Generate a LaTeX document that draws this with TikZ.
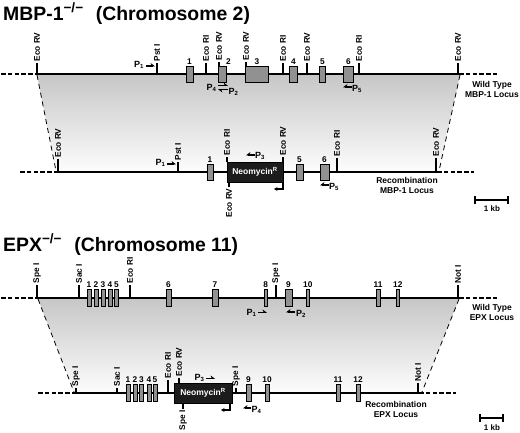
\documentclass[tikz,border=0pt]{standalone}
\usepackage{fontspec}
\setmainfont{Liberation Sans}
\usetikzlibrary{arrows.meta}
\definecolor{exgray}{RGB}{145,145,145}
\definecolor{neoblack}{RGB}{28,28,28}
\tikzset{
 mainln/.style={line width=2.6pt},
 extln/.style={line width=2.6pt, dash pattern=on 4.5pt off 2.3pt},
 trap/.style={line width=0.8pt, dash pattern=on 5pt off 4pt},
 tk/.style={line width=1.4pt},
 slab/.style={rotate=90, inner sep=0.8pt, font=\fontsize{8.3}{9}\selectfont\bfseries},
 exn/.style={draw=black, line width=0.7pt, fill=exgray},
 exlab/.style={anchor=south, inner sep=0.4pt, font=\fontsize{8.3}{9}\selectfont\bfseries},
 neo/.style={draw=black, line width=0.7pt, fill=neoblack, text=white, font=\fontsize{8.5}{10}\selectfont\bfseries, inner sep=0pt},
 plab/.style={inner sep=0.5pt, font=\fontsize{9}{10}\selectfont\bfseries},
 prim/.style={line width=1.1pt, -{Stealth[harpoon,length=4pt,width=6pt]}},
 primS/.style={line width=1.1pt, -{Stealth[harpoon,swap,length=4pt,width=6pt]}},
 bent/.style={line width=1.1pt, -{Stealth[length=3.5pt,width=4pt]}},
 ttl/.style={anchor=base west, inner sep=0pt, font=\fontsize{19.4}{24}\selectfont\bfseries},
 locus/.style={align=center, inner sep=0pt, font=\fontsize{8.5}{10}\selectfont\bfseries},
 kb/.style={inner sep=0pt, font=\fontsize{8}{9}\selectfont\bfseries},
}
\newcommand\siteup[4]{\draw[tk] (#1,#2) -- (#1,#3) node[slab,anchor=west]{#4};}
\newcommand\sitedn[4]{\draw[tk] (#1,#2) -- (#1,#3) node[slab,anchor=east]{#4};}
\newcommand\ex[4]{\draw[exn] (#1,#3) rectangle (#2,#4);}
\newcommand\exl[3]{\node[exlab] at (#1,#2) {#3};}
\begin{document}
\begin{tikzpicture}[x=1pt,y=-1pt]
\useasboundingbox (0,0) rectangle (520,432);
% ================= MBP-1 =================
\node[ttl] (t1) at (3,20) {MBP-1\textsuperscript{\char"2212/\char"2212}\hspace{0.35em} (Chromosome 2)};
\coordinate (mA) at (37,75); \coordinate (mB) at (460,75);
\coordinate (mC) at (439,171); \coordinate (mD) at (56,171);
\shade[top color=black!22, bottom color=black!1] (mA) -- (mB) -- (mC) -- (mD) -- cycle;
\draw[trap] (mA) -- (mD); \draw[trap] (mB) -- (mC);
% wild type line
\coordinate (mw0) at (1,74); \coordinate (mw1) at (36,74);
\coordinate (mw2) at (459,74); \coordinate (mw3) at (497,74);
\draw[extln] (mw0) -- (mw1); \draw[mainln] (mw1) -- (mw2); \draw[extln] (mw2) -- (mw3);
\siteup{37}{74}{63}{Eco RV}
\siteup{157}{74}{63}{Pst I}
\siteup{206}{74}{63}{Eco RI}
\siteup{219}{66}{62}{Eco RV}
\siteup{246}{66}{62}{Eco RV}
\siteup{283}{74}{63}{Eco RI}
\siteup{307}{74}{63}{Eco RV}
\siteup{359}{74}{63}{Eco RI}
\siteup{458}{74}{63}{Eco RV}
\ex{186}{193}{66}{82} \exl{189.5}{65}{1}
\ex{218}{226}{66}{82} \exl{228.5}{65}{2}
\ex{245}{268}{66}{82} \exl{257}{65}{3}
\ex{289}{297}{66}{82} \exl{293.5}{65}{4}
\ex{319}{325}{66}{82} \exl{322.5}{65}{5}
\ex{343}{353}{66}{82} \exl{348.5}{65}{6}
\node[plab] (p1w) at (139,65) {P\textsubscript{1}};
\draw[prim] (146,66) -- (155,66);
\node[plab] (p4w) at (211.5,88) {P\textsubscript{4}};
\draw[prim] (218,85.5) -- (228,85.5);
\draw[prim] (228,89.5) -- (218,89.5);
\node[plab] (p2w) at (233.5,91.5) {P\textsubscript{2}};
\draw[primS] (352,87) -- (343,87);
\node[plab] (p5w) at (357,89) {P\textsubscript{5}};
\node[locus] (lw1) at (492,89) {Wild Type\\MBP-1 Locus};
% recombination line
\coordinate (mr0) at (20,172); \coordinate (mr1) at (57,172);
\coordinate (mr2) at (437,172); \coordinate (mr3) at (474,172);
\draw[extln] (mr0) -- (mr1); \draw[mainln] (mr1) -- (mr2); \draw[extln] (mr2) -- (mr3);
\siteup{58}{172}{159}{Eco RV}
\siteup{178}{172}{162}{Pst I}
\siteup{337}{172}{158}{Eco RI}
\siteup{436}{172}{158}{Eco RV}
\ex{207}{213}{164}{180} \exl{210}{163}{1}
\ex{296}{303}{164}{180} \exl{299.5}{163}{5}
\ex{320}{329}{164}{180} \exl{324.5}{163}{6}
\node[neo, minimum width=56pt, minimum height=20pt] (neoM) at (255,172) {Neomycin\textsuperscript{R}};
\siteup{227}{162}{157}{Eco RI}
\siteup{283}{162}{157}{Eco RV}
\sitedn{229}{182}{187}{Eco RV}
\coordinate (bm1) at (283,182); \coordinate (bm2) at (283,189); \coordinate (bm3) at (274,189);
\draw[bent] (bm1) -- (bm2) -- (bm3);
\draw[primS] (255,155) -- (246,155);
\node[plab] (p3m) at (260,156) {P\textsubscript{3}};
\node[plab] (p1r) at (160.5,163) {P\textsubscript{1}};
\draw[prim] (167,164) -- (176,164);
\draw[primS] (329,185) -- (320,185);
\node[plab] (p5r) at (334,187) {P\textsubscript{5}};
\node[locus] (lr1) at (407,185.5) {Recombination\\MBP-1 Locus};
% scale bar
\coordinate (sb1) at (475,200); \coordinate (sb2) at (508,200);
\draw[line width=1.3pt] (sb1) -- (sb2);
\draw[line width=1.3pt] (475,196) -- (475,204) (508,196) -- (508,204);
\node[kb] (kb1) at (492,209) {1 kb};
% ================= EPX =================
\node[ttl] (t2) at (3,251) {EPX\textsuperscript{\char"2212/\char"2212}\hspace{0.35em} (Chromosome 11)};
\coordinate (eA) at (38,299); \coordinate (eB) at (459,299);
\coordinate (eC) at (422,392); \coordinate (eD) at (74,392);
\shade[top color=black!22, bottom color=black!1] (eA) -- (eB) -- (eC) -- (eD) -- cycle;
\draw[trap] (eA) -- (eD); \draw[trap] (eB) -- (eC);
\coordinate (ew0) at (1,298); \coordinate (ew1) at (36,298);
\coordinate (ew2) at (459,298); \coordinate (ew3) at (497,298);
\draw[extln] (ew0) -- (ew1); \draw[mainln] (ew1) -- (ew2); \draw[extln] (ew2) -- (ew3);
\siteup{37}{298}{285}{Spe I}
\siteup{79}{298}{285}{Sac I}
\siteup{130}{298}{285}{Eco RI}
\siteup{276}{298}{285}{Spe I}
\siteup{458}{298}{285}{Not I}
\ex{87}{91}{289.5}{306.5} \exl{89}{288.5}{1}
\ex{94}{98}{289.5}{306.5} \exl{96}{288.5}{2}
\ex{101}{105}{289.5}{306.5} \exl{103}{288.5}{3}
\ex{108}{112}{289.5}{306.5} \exl{110}{288.5}{4}
\ex{114}{118}{289.5}{306.5} \exl{116.5}{288.5}{5}
\ex{166}{171}{289.5}{306.5} \exl{168.5}{288.5}{6}
\ex{212}{218}{289.5}{306.5} \exl{215}{288.5}{7}
\ex{264}{267.5}{289.5}{306.5} \exl{265.8}{288.5}{8}
\ex{285}{292}{289.5}{306.5} \exl{288.5}{288.5}{9}
\ex{306}{309.5}{289.5}{306.5} \exl{307.8}{288.5}{10}
\ex{376}{380}{289.5}{306.5} \exl{378}{288.5}{11}
\ex{396}{399.5}{289.5}{306.5} \exl{397.8}{288.5}{12}
\node[plab] (q1w) at (251.5,312.5) {P\textsubscript{1}};
\draw[prim] (258,312.5) -- (267,312.5);
\draw[primS] (295,312) -- (286,312);
\node[plab] (q2w) at (301,313.5) {P\textsubscript{2}};
\node[locus] (lw2) at (492,312.5) {Wild Type\\EPX Locus};
% recombination line
\coordinate (er0) at (38,393); \coordinate (er1) at (75,393);
\coordinate (er2) at (419,393); \coordinate (er3) at (456,393);
\draw[extln] (er0) -- (er1); \draw[mainln] (er1) -- (er2); \draw[extln] (er2) -- (er3);
\siteup{76}{393}{388}{Spe I}
\siteup{117}{393}{388}{Sac I}
\siteup{168}{393}{380}{Eco RI}
\siteup{236}{393}{388}{Spe I}
\siteup{418}{393}{383}{Not I}
\ex{126}{130}{384.5}{401.5} \exl{128}{383.5}{1}
\ex{133}{137}{384.5}{401.5} \exl{135}{383.5}{2}
\ex{139.5}{143.5}{384.5}{401.5} \exl{141.5}{383.5}{3}
\ex{147}{151}{384.5}{401.5} \exl{149}{383.5}{4}
\ex{153}{157}{384.5}{401.5} \exl{155}{383.5}{5}
\ex{246}{251}{384.5}{401.5} \exl{248.5}{383.5}{9}
\ex{265}{269}{384.5}{401.5} \exl{267}{383.5}{10}
\ex{336}{340}{384.5}{401.5} \exl{338}{383.5}{11}
\ex{356}{360}{384.5}{401.5} \exl{358}{383.5}{12}
\node[neo, minimum width=58pt, minimum height=20pt] (neoE) at (203,393) {Neomycin\textsuperscript{R}};
\siteup{179}{383}{378}{Eco RV}
\sitedn{183}{403}{409}{Spe I}
\coordinate (be1) at (230,403); \coordinate (be2) at (230,410); \coordinate (be3) at (221,410);
\draw[bent] (be1) -- (be2) -- (be3);
\node[plab] (q3r) at (199.5,378) {P\textsubscript{3}};
\draw[prim] (206,378.5) -- (215,378.5);
\draw[primS] (251,408) -- (243,408);
\node[plab] (q4r) at (256.5,410) {P\textsubscript{4}};
\node[locus] (lr2) at (396,409.5) {Recombination\\EPX Locus};
\coordinate (sc1) at (480,418); \coordinate (sc2) at (503,418);
\draw[line width=1.3pt] (sc1) -- (sc2);
\draw[line width=1.3pt] (480,414) -- (480,422) (503,414) -- (503,422);
\node[kb] (kb2) at (492,427.5) {1 kb};
\end{tikzpicture}
\end{document}
